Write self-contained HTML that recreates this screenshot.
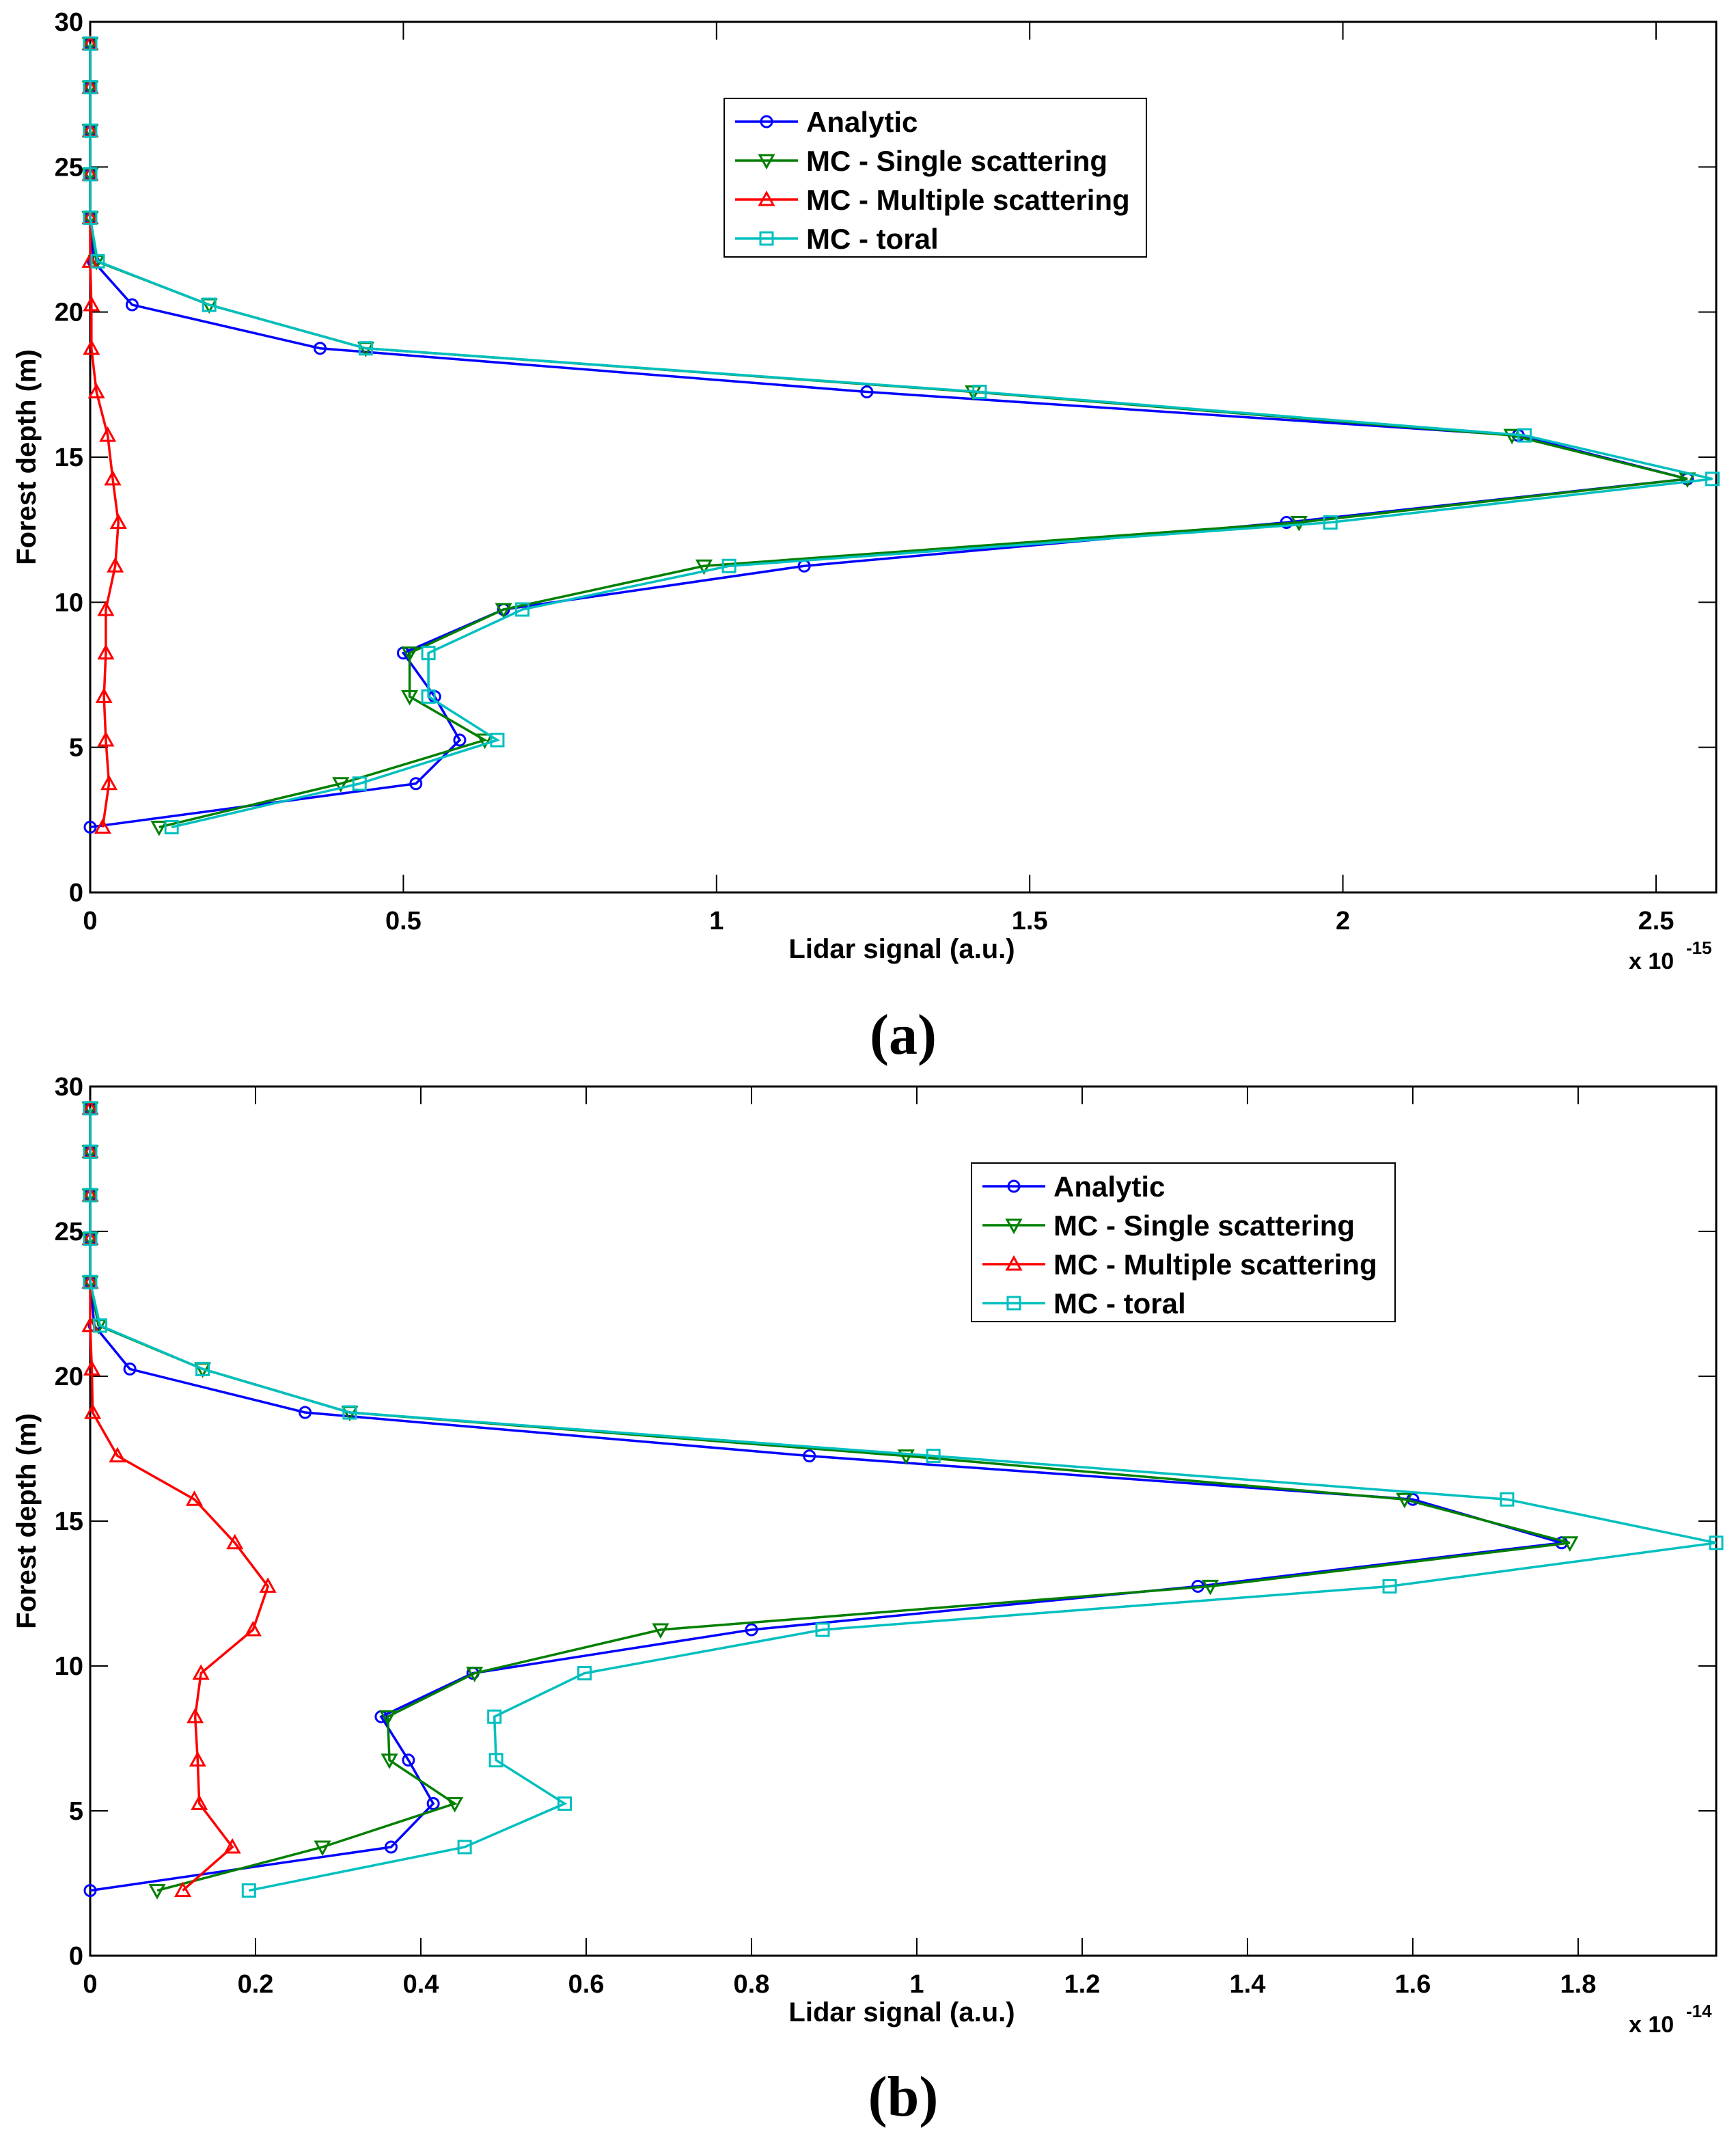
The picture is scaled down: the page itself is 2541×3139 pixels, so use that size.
<!DOCTYPE html>
<html><head><meta charset="utf-8"><style>
html,body{margin:0;padding:0;background:#fff;}
svg{display:block;font-family:"Liberation Sans",sans-serif;}
</style></head><body>
<svg id="fig" width="2541" height="3139" viewBox="0 0 2541 3139" xmlns="http://www.w3.org/2000/svg"></svg>
<script>
const depths=[29.25,27.75,26.25,24.75,23.25,21.75,20.25,18.75,17.25,15.75,14.25,12.75,11.25,9.75,8.25,6.75,5.25,3.75,2.25];
const yTicks=[0,5,10,15,20,25,30];
const seriesNames=["Analytic","MC - Single scattering","MC - Multiple scattering","MC - toral"];
// panel a values (x 1e-15)
const aAnalytic=[0,0,0,0,0,0.005,0.067,0.367,1.24,2.28,2.55,1.91,1.14,0.66,0.50,0.55,0.59,0.52,0];
const aSingle=[0,0,0,0,0,0.01,0.19,0.44,1.41,2.27,2.55,1.93,0.98,0.66,0.51,0.51,0.63,0.40,0.11];
const aMultiple=[0,0,0,0,0,0,0.002,0.002,0.01,0.028,0.036,0.045,0.04,0.025,0.025,0.022,0.025,0.03,0.02];
const aTotal=[0,0,0,0,0,0.012,0.19,0.44,1.42,2.29,2.59,1.98,1.02,0.69,0.54,0.54,0.65,0.43,0.13];
const aXTicks=[0,0.5,1,1.5,2,2.5];
// panel b values (x 1e-14)
const bAnalytic=[0,0,0,0,0,0.005,0.048,0.26,0.87,1.60,1.78,1.34,0.80,0.463,0.352,0.385,0.415,0.364,0];
const bSingle=[0,0,0,0,0,0.01,0.136,0.314,0.987,1.59,1.79,1.355,0.69,0.465,0.36,0.362,0.441,0.281,0.081];
const bMultiple=[0,0,0,0,0,0,0.002,0.003,0.033,0.126,0.175,0.215,0.197,0.134,0.127,0.13,0.132,0.172,0.112];
const bTotal=[0,0,0,0,0,0.012,0.136,0.314,1.02,1.714,1.967,1.572,0.886,0.598,0.489,0.491,0.574,0.453,0.192];
const bXTicks=[0,0.2,0.4,0.6,0.8,1,1.2,1.4,1.6,1.8];

const NS="http://www.w3.org/2000/svg";
const svg=document.getElementById('fig');
function mk(tag,attrs,parent,text){const e=document.createElementNS(NS,tag);for(const k in attrs)e.setAttribute(k,attrs[k]);if(text!==undefined)e.textContent=text;(parent||svg).appendChild(e);return e;}
const colors=["#0000ff","#007f00","#ff0000","#00bfbf"];
function marker(g,kind,x,y,c){
  let e;
  if(kind===0){e=mk('circle',{cx:x,cy:y,r:8,fill:'none',stroke:c,'stroke-width':3},g);}
  else if(kind===1){e=mk('polygon',{points:`${x-10},${y-8} ${x+10},${y-8} ${x},${y+10}`,fill:'none',stroke:c,'stroke-width':3},g);}
  else if(kind===2){e=mk('polygon',{points:`${x-10},${y+8} ${x+10},${y+8} ${x},${y-10}`,fill:'none',stroke:c,'stroke-width':3},g);}
  else {e=mk('rect',{x:x-9,y:y-9,width:18,height:18,fill:'none',stroke:c,'stroke-width':3},g);}
  
  
}
function panel(id,top,bottom,xmax,xTicks,series,exp,leg,label,labelY){
  const L=132,R=2512;
  const g=mk('g',{});
  
  
  const sx=v=>L+v/xmax*(R-L);
  const sy=v=>bottom-v/30*(bottom-top);
  xTicks.forEach(t=>{
    const x=sx(t);
    mk('line',{x1:x,y1:bottom,x2:x,y2:bottom-26,stroke:'#000','stroke-width':2},g);
    mk('line',{x1:x,y1:top,x2:x,y2:top+26,stroke:'#000','stroke-width':2},g);
    const tl=mk('text',{x:x,y:bottom+54,'text-anchor':'middle','font-size':38,'font-weight':'bold'},g,String(t));
    
    
  });
  yTicks.forEach(t=>{
    const y=sy(t);
    mk('line',{x1:L,y1:y,x2:L+26,y2:y,stroke:'#000','stroke-width':2},g);
    mk('line',{x1:R,y1:y,x2:R-26,y2:y,stroke:'#000','stroke-width':2},g);
    const tl=mk('text',{x:L-10,y:y+13,'text-anchor':'end','font-size':38,'font-weight':'bold'},g,String(t));
    
    
  });
  const box=mk('rect',{x:L,y:top,width:R-L,height:bottom-top,fill:'none',stroke:'#000','stroke-width':3},g);
  
  
  series.forEach((vals,si)=>{
    const pts=vals.map((v,i)=>sx(v)+','+sy(depths[i])).join(' ');
    const pl=mk('polyline',{points:pts,fill:'none',stroke:colors[si],'stroke-width':3.5},g);
    
    
    vals.forEach((v,i)=>marker(g,si,sx(v),sy(depths[i]),colors[si]));
  });
  const xt=mk('text',{x:1320,y:bottom+96,'text-anchor':'middle','font-size':40,'font-weight':'bold'},g,'Lidar signal (a.u.)');
  
  
  const yt=mk('text',{x:52,y:(top+bottom)/2,'text-anchor':'middle','font-size':40,'font-weight':'bold',transform:`rotate(-90 52 ${(top+bottom)/2})`},g,'Forest depth (m)');
  
  
  const ex=mk('text',{x:2384,y:bottom+112,'font-size':34,'font-weight':'bold'},g,'x 10');
  
  
  mk('text',{x:2468,y:bottom+90,'font-size':26,'font-weight':'bold'},g,exp);
  const lg=mk('g',{},g);
  
  
  mk('rect',{x:leg[0],y:leg[1],width:leg[2],height:232,fill:'#fff',stroke:'#000','stroke-width':2},lg);
  seriesNames.forEach((n,i)=>{
    const y=leg[1]+34+i*57;
    mk('line',{x1:leg[0]+16,y1:y,x2:leg[0]+108,y2:y,stroke:colors[i],'stroke-width':3.5},lg);
    marker(lg,i,leg[0]+62,y,colors[i]);
    const t=mk('text',{x:leg[0]+120,y:y+15,'font-size':42,'font-weight':'bold'},lg,n);
    
    
  });
  const pl=mk('text',{x:1322,y:labelY,'text-anchor':'middle','font-size':84,'font-weight':'bold','font-family':'Liberation Serif, serif'},svg,label);
  
  
}
panel('a',32,1306,2.596,aXTicks,[aAnalytic,aSingle,aMultiple,aTotal],'-15',[1060,144,618],'(a)',1542);
panel('b',1590,2862,1.967,bXTicks,[bAnalytic,bSingle,bMultiple,bTotal],'-14',[1422,1702,620],'(b)',3096);
</script>
</body></html>
